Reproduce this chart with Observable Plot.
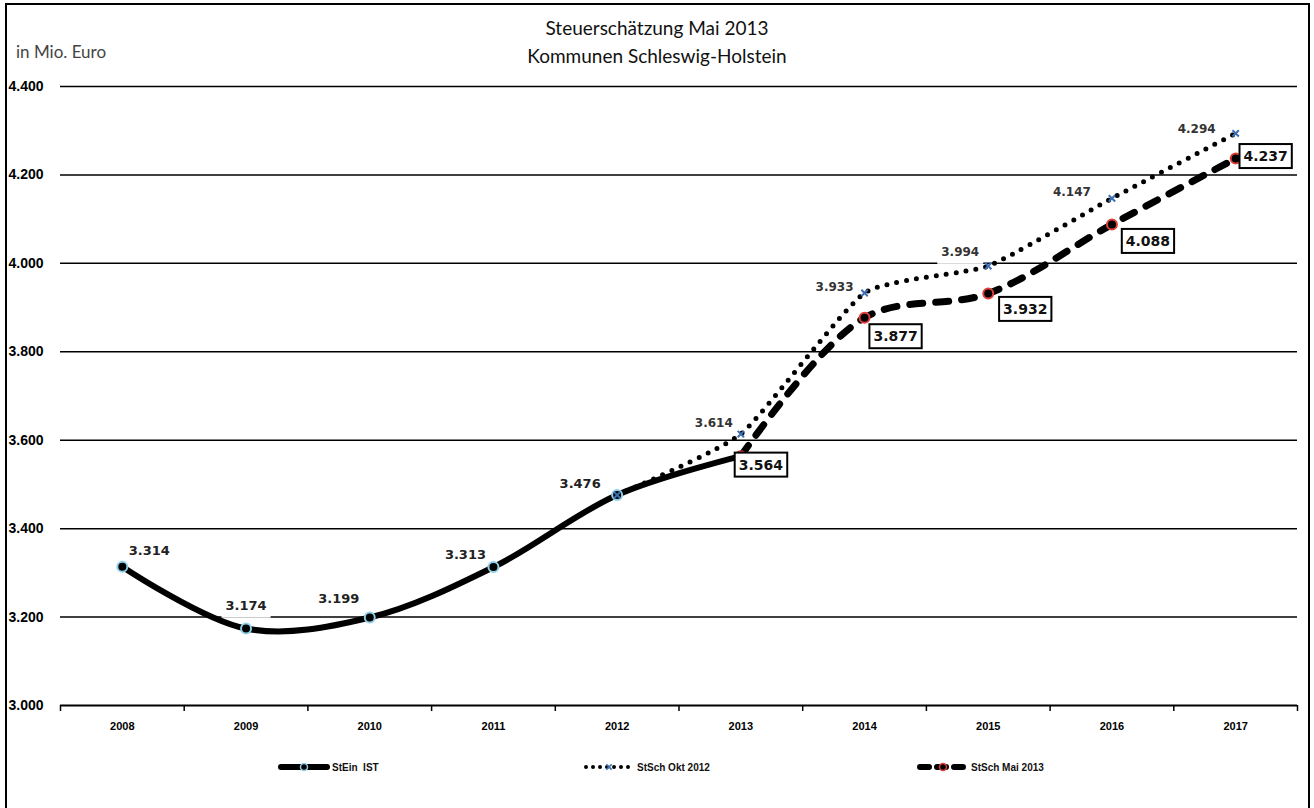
<!DOCTYPE html>
<html>
<head>
<meta charset="utf-8">
<script src="https://cdn.jsdelivr.net/npm/d3@7"></script>
<script src="https://cdn.jsdelivr.net/npm/@observablehq/plot@0.6"></script>
<style>
  body { margin: 0; background: #fff; }
  #wrap { position: relative; width: 1314px; height: 808px; overflow: hidden; font-family: Lato, "Open Sans", sans-serif; }
  #frame { position: absolute; left: 5px; top: 3px; width: 1305px; height: 820px; box-sizing: border-box; border: 2px solid #000; pointer-events: none; }
  #chart { position: absolute; left: 0; top: 0; }
  #title { position: absolute; left: 0; top: 14px; width: 1314px; text-align: center; font-size: 19px; line-height: 28px; color: #111; }
  #unit { position: absolute; left: 16px; top: 41px; font-size: 17px; color: #444; }
  .leg { position: absolute; top: 759px; height: 16px; display: flex; align-items: center; font-family: "Liberation Sans Narrow", "Liberation Sans", sans-serif; font-size: 10px; font-weight: bold; white-space: pre; color: #111; }
  .leg svg { margin-right: 2px; }
</style>
</head>
<body>
<div id="wrap">
  <div id="chart"></div>
  <div id="title">Steuerschätzung Mai 2013<br>Kommunen Schleswig-Holstein</div>
  <div id="unit">in Mio. Euro</div>
  <div id="legend"></div>
  <div id="frame"></div>
</div>
<script>
// ---- data ----
const years = [2008, 2009, 2010, 2011, 2012, 2013, 2014, 2015, 2016, 2017];
const istYears = [2008, 2009, 2010, 2011, 2012, 2013];
const istValues = [3314, 3174, 3199, 3313, 3476, 3564];
const oktYears = [2012, 2013, 2014, 2015, 2016, 2017];
const oktValues = [3476, 3614, 3933, 3994, 4147, 4294];
const maiYears = [2013, 2014, 2015, 2016, 2017];
const maiValues = [3564, 3877, 3932, 4088, 4237];
const yTicks = [3000, 3200, 3400, 3600, 3800, 4000, 4200, 4400];
const seriesNames = ["StEin  IST", "StSch Okt 2012", "StSch Mai 2013"];

// ---- label placement (style, not data) ----
const istOffsets = [[27, -16], [0, -23], [-31, -19], [-28, -12], [-37, -11], null];
const oktOffsets = {2013: [-27, -11], 2014: [-30, -6], 2015: [-28, -14], 2016: [-40, -6], 2017: [-39, -4]};
const maiOffsets = [[20, 9], [31, 19], [37, 16], [36, 17], [30, -2]];

const fmt = d3.formatLocale({decimal: ",", thousands: ".", grouping: [3], currency: ["", "€"]}).format(",d");

const ist = istYears.map((y, i) => ({year: y, value: istValues[i]}));
const okt = oktYears.map((y, i) => ({year: y, value: oktValues[i]}));
const mai = maiYears.map((y, i) => ({year: y, value: maiValues[i]}));
const halfYears = years.map(y => y - 0.5).concat([years[years.length - 1] + 0.5]);

const narrow = "'Liberation Sans Narrow', 'Liberation Sans', sans-serif";
const verd = "'DejaVu Sans', Verdana, sans-serif";

const plainLabels = [];
ist.forEach((d, i) => {
  const o = istOffsets[i];
  if (!o) return;
  plainLabels.push(Plot.text([d], {x: "year", y: "value", text: d => fmt(d.value), dx: o[0], dy: o[1],
    fontFamily: verd, fontWeight: "bold", fontSize: 13, fill: "#222", ariaDescription: "lbl-plain"}));
});
okt.forEach(d => {
  const o = oktOffsets[d.year];
  if (!o) return;
  plainLabels.push(Plot.text([d], {x: "year", y: "value", text: d => fmt(d.value), dx: o[0], dy: o[1],
    fontFamily: verd, fontWeight: "bold", fontSize: 12, fill: "#333", ariaDescription: "lbl-plain"}));
});
const boxLabels = mai.map((d, i) => Plot.text([d], {x: "year", y: "value", text: d => fmt(d.value), dx: maiOffsets[i][0], dy: maiOffsets[i][1],
  fontFamily: verd, fontWeight: "bold", fontSize: 14, fill: "#111", ariaDescription: "lbl-box"}));

const chart = Plot.plot({
  width: 1314,
  height: 808,
  marginLeft: 60,
  marginRight: 17,
  marginTop: 86,
  marginBottom: 103,
  style: {background: "transparent", fontFamily: narrow},
  x: {domain: [2007.5, 2017.5]},
  y: {domain: [3000, 4400]},
  marks: [
    Plot.ruleY(yTicks.slice(1), {stroke: "#000", strokeWidth: 1.5}),
    ...plainLabels,
    Plot.ruleY([3000], {stroke: "#000", strokeWidth: 2}),
    Plot.axisY({ticks: yTicks, tickSize: 0, tickPadding: 52, textAnchor: "start", tickFormat: fmt, label: null,
      fontSize: 14, fontWeight: "bold", fill: "#000"}),
    Plot.axisX({ticks: halfYears, tickSize: 6, tickFormat: () => "", label: null, strokeWidth: 1.5}),
    Plot.axisX({ticks: years, tickSize: 0, tickPadding: 17, tickFormat: d => String(d), label: null,
      fontSize: 11, fontWeight: "bold", fill: "#000"}),
    Plot.line(ist, {x: "year", y: "value", curve: "catmull-rom", stroke: "#000", strokeWidth: 6, strokeLinecap: "round"}),
    Plot.dot(ist, {x: "year", y: "value", r: 5, fill: "#000", stroke: "#8fd0e6", strokeWidth: 2}),
    Plot.line(okt, {x: "year", y: "value", curve: "cardinal", tension: 0.5, stroke: "#000", strokeWidth: 5, strokeDasharray: "0 10", strokeLinecap: "round"}),
    Plot.dot(okt, {x: "year", y: "value", r: 3, symbol: "times", stroke: "#3d6fb5", strokeWidth: 2}),
    Plot.line(mai, {x: "year", y: "value", curve: "catmull-rom", stroke: "#000", strokeWidth: 7, strokeDasharray: "13 13", strokeLinecap: "round"}),
    Plot.dot(mai, {x: "year", y: "value", r: 5, fill: "#000", stroke: "#e0403a", strokeWidth: 2}),
    ...boxLabels
  ]
});
document.getElementById("chart").append(chart);

// label backgrounds sized from the rendered text
const ns = "http://www.w3.org/2000/svg";
function addBg(sel, padX, padY, stroke) {
  chart.querySelectorAll(sel).forEach(t => {
    const b = t.getBBox();
    const r = document.createElementNS(ns, "rect");
    r.setAttribute("x", b.x - padX);
    r.setAttribute("y", b.y - padY);
    r.setAttribute("width", b.width + 2 * padX);
    r.setAttribute("height", b.height + 2 * padY);
    r.setAttribute("fill", "#fff");
    if (stroke) { r.setAttribute("stroke", "#000"); r.setAttribute("stroke-width", 2); }
    const tr = t.getAttribute("transform");
    if (tr) r.setAttribute("transform", tr);
    t.parentNode.insertBefore(r, t);
  });
}
addBg('g[aria-description="lbl-plain"] text', 4, 5, false);
addBg('g[aria-description="lbl-box"] text', 4, 4, true);

// legend
const legStyles = [
  {dash: null, w: 6, sym: "circle", mfill: "#000", mstroke: "#8fd0e6"},
  {dash: "0 7", w: 4, sym: "times", mfill: "none", mstroke: "#3d6fb5"},
  {dash: "9 8", w: 6, sym: "circle", mfill: "#000", mstroke: "#e0403a"}
];
const legLeft = [278, 583, 917];
const legend = d3.select("#legend");
seriesNames.forEach((name, i) => {
  const s = legStyles[i];
  const item = legend.append("div").attr("class", "leg").style("left", legLeft[i] + "px");
  const svg = item.append("svg").attr("width", 52).attr("height", 14);
  const ln = svg.append("line").attr("x1", 3).attr("x2", 49).attr("y1", 7).attr("y2", 7)
    .attr("stroke", "#000").attr("stroke-width", s.w).attr("stroke-linecap", "round");
  if (s.dash) ln.attr("stroke-dasharray", s.dash);
  if (s.sym === "circle") {
    svg.append("circle").attr("cx", 26).attr("cy", 7).attr("r", 3.5).attr("fill", s.mfill).attr("stroke", s.mstroke).attr("stroke-width", 1.5);
  } else {
    svg.append("path").attr("d", d3.symbol(d3.symbolTimes, 20)()).attr("transform", "translate(26,7)").attr("stroke", s.mstroke).attr("stroke-width", 1.5);
  }
  item.append("span").text(name);
});
</script>
</body>
</html>
